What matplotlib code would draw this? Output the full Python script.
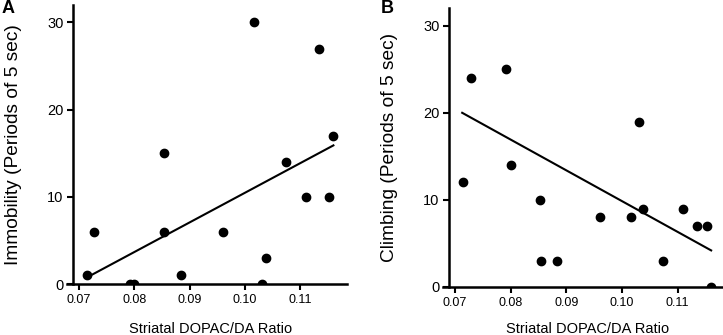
import matplotlib
matplotlib.use("Agg")
import matplotlib.pyplot as plt

plt.rcParams["font.family"] = ["Liberation Sans", "DejaVu Sans"]

# DOPAC/DA ratio, same animals in both panels
ratio = [0.0714, 0.0728, 0.0792, 0.0800, 0.0853, 0.0854, 0.0884, 0.0960,
         0.1016, 0.1031, 0.1038, 0.1074, 0.1110, 0.1134, 0.1152, 0.1160]
immobility = [1, 6, 0, 0, 15, 6, 1, 6, 30, 0, 3, 14, 10, 27, 10, 17]
climbing = [12, 24, 25, 14, 10, 3, 3, 8, 8, 19, 9, 3, 9, 7, 7, 0]

# regression lines as drawn in the figure (end points)
fit_x = [0.0713, 0.1160]
fit_immobility = [0.7, 15.9]
fit_climbing = [20.0, 4.2]

xticks = [0.07, 0.08, 0.09, 0.10, 0.11]
xticklabels = ["0.07", "0.08", "0.09", "0.10", "0.11"]
yticks = [0, 10, 20, 30]

fig = plt.figure(figsize=(7.23, 3.35), dpi=100)

panels = [
    ("A", [0.0922, 0.1522, 0.3873, 0.8328], immobility, fit_immobility,
     "Immobility (Periods of 5 sec)", 0.0, -0.136),
    ("B", [0.6123, 0.1433, 0.3898, 0.8320], climbing, fit_climbing,
     "Climbing (Periods of 5 sec)", 0.525, -0.126),
]

for letter, rect, yvals, fit_y, ylab, lx, xlab_y in panels:
    ax = fig.add_axes(rect)
    ax.plot(ratio, yvals, "o", color="black", markersize=6, clip_on=True)
    ax.plot(fit_x, fit_y, color="black", linewidth=1.5)

    ax.set_xlim(0.0678, 0.1184)
    ax.set_ylim(0, 32)
    ax.spines["top"].set_visible(False)
    ax.spines["right"].set_visible(False)
    ax.spines["left"].set_position(("data", 0.069))
    ax.spines["left"].set_linewidth(1.8)
    ax.spines["bottom"].set_linewidth(1.8)

    ax.set_xticks(xticks)
    ax.set_xticklabels(xticklabels)
    ax.set_yticks(yticks)
    ax.tick_params(axis="x", labelsize=9, length=4, width=1.5, pad=3)
    ax.tick_params(axis="y", labelsize=10.5, length=4, width=1.5, pad=3)

    ax.set_ylabel(ylab, fontsize=13.8)
    ax.yaxis.set_label_coords(-0.16, 0.5)
    ax.set_xlabel("Striatal DOPAC/DA Ratio", fontsize=10.5)
    ax.xaxis.set_label_coords(0.515, xlab_y)

    fig.text(lx + 0.002, 1.0, letter, fontsize=13, fontweight="bold",
             ha="left", va="top")

fig.savefig("out.png", dpi=100)
